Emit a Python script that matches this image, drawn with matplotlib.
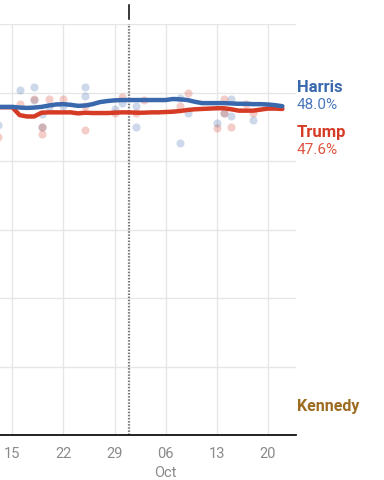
import pandas as pd
import matplotlib
matplotlib.use("Agg")
import matplotlib.pyplot as plt
import matplotlib.dates as mdates
import matplotlib.transforms as mtransforms

plt.rcParams["font.family"] = ["Roboto", "DejaVu Sans"]

# Polling averages (daily trend lines)
trend_dates = pd.date_range("2024-09-13", "2024-10-22", freq="D")
harris_trend = [47.9, 47.9, 47.9, 47.8, 47.75, 47.8, 47.9, 48.1, 48.25, 48.3,
                48.2, 48.05, 48.1, 48.3, 48.6, 48.75, 48.85, 48.9, 48.9, 48.9,
                48.9, 48.9, 48.9, 48.9, 49.05, 49.0, 48.9, 48.65, 48.45, 48.45,
                48.45, 48.45, 48.4, 48.35, 48.35, 48.3, 48.3, 48.25, 48.15, 48.0]
trump_trend = [47.85, 47.85, 47.85, 46.7, 46.5, 46.5, 47.05, 47.1, 47.1, 47.1,
               47.1, 46.95, 47.05, 47.0, 47.0, 47.0, 47.05, 47.1, 47.1, 47.05,
               47.05, 47.1, 47.1, 47.15, 47.2, 47.3, 47.45, 47.55, 47.6, 47.65,
               47.7, 47.7, 47.55, 47.35, 47.35, 47.35, 47.5, 47.65, 47.65, 47.6]

# Individual polls
harris_poll_dates = ["2024-09-13", "2024-09-16", "2024-09-18", "2024-09-18", "2024-09-19",
                     "2024-09-19", "2024-09-20", "2024-09-22", "2024-09-25", "2024-09-25",
                     "2024-09-29", "2024-09-30", "2024-10-02", "2024-10-02", "2024-10-08",
                     "2024-10-08", "2024-10-09", "2024-10-13", "2024-10-14", "2024-10-15",
                     "2024-10-15", "2024-10-18"]
harris_polls = [45.3, 50.4, 50.8, 48.9, 46.9, 45.0, 47.9, 48.0, 50.8, 49.5,
                47.6, 48.4, 48.1, 45.0, 49.2, 42.6, 47.0, 45.5, 47.0, 49.05,
                46.5, 46.0]
trump_poll_dates = ["2024-09-13", "2024-09-16", "2024-09-18", "2024-09-19", "2024-09-19",
                    "2024-09-20", "2024-09-22", "2024-09-25", "2024-09-25", "2024-09-29",
                    "2024-09-30", "2024-10-02", "2024-10-03", "2024-10-08", "2024-10-09",
                    "2024-10-13", "2024-10-14", "2024-10-14", "2024-10-15", "2024-10-17",
                    "2024-10-18"]
trump_polls = [43.5, 48.3, 49.1, 45.0, 43.9, 49.05, 49.05, 48.1, 44.5, 47.0,
               49.3, 47.0, 48.9, 48.1, 50.0, 44.8, 49.05, 47.0, 45.0, 48.3, 47.0]

tick_dates = ["2024-09-15", "2024-09-22", "2024-09-29", "2024-10-06", "2024-10-13", "2024-10-20"]
tick_labels = ["15", "22", "29", "06", "13", "20"]
marker_date = "2024-10-01"

blue = "#3a68ad"
red = "#d63b26"
brown = "#9c6b1f"

fig = plt.figure(figsize=(3.84, 4.81), dpi=100)
ax = fig.add_axes([0, 1 - 436 / 481, 296 / 384, 411 / 481])

ax.scatter(pd.to_datetime(harris_poll_dates), harris_polls, s=34, color=blue, alpha=0.25,
           linewidths=0, zorder=2)
ax.scatter(pd.to_datetime(trump_poll_dates), trump_polls, s=34, color=red, alpha=0.25,
           linewidths=0, zorder=2)
ax.plot(trend_dates, trump_trend, color=red, lw=3.2, solid_capstyle="round",
        solid_joinstyle="round", zorder=3)
ax.plot(trend_dates, harris_trend, color=blue, lw=3.2, solid_capstyle="round",
        solid_joinstyle="round", zorder=4)

# axes limits
x0 = mdates.date2num(pd.Timestamp("2024-09-15"))
ax.set_xlim(x0 - 12.3 / 7.3, x0 + (296 - 12.3) / 7.3)
ax.set_ylim(0, 60)

ax.set_yticks(range(10, 70, 10))
ax.set_xticks(pd.to_datetime(tick_dates))
ax.set_xticklabels(tick_labels)
ax.tick_params(axis="y", length=0, labelleft=False)
ax.tick_params(axis="x", length=0, pad=8, labelsize=10.5, labelcolor="#8a8a8a")
ax.grid(True, color="#e6e6e6", lw=1.0, zorder=0)
ax.set_axisbelow(True)
for s in ["top", "left", "right"]:
    ax.spines[s].set_visible(False)
ax.spines["bottom"].set_color("#111111")
ax.spines["bottom"].set_linewidth(1.3)

# month label
trans = mtransforms.blended_transform_factory(ax.transData, ax.transAxes)
ax.text(pd.Timestamp("2024-10-06"), -37 / 411, "Oct", transform=trans, ha="center",
        va="center", fontsize=10.5, color="#8a8a8a")

# dotted marker line and top tick
md = pd.Timestamp(marker_date)
ax.axvline(md, color="#7a7a7a", lw=1.6, linestyle=(0, (0.7, 0.7)), zorder=1)
ax.plot([md, md], [1 + 5 / 411, 1 + 19 / 411], transform=trans, color="black", lw=1.1,
        clip_on=False)

# labels on the right
fx = 297 / 384
fig.text(fx, 1 - 87 / 481, "Harris", color=blue, fontsize=12, fontweight="bold", va="center")
fig.text(fx, 1 - 105 / 481, "48.0%", color="#4a78bb", fontsize=11, va="center")
fig.text(fx, 1 - 132 / 481, "Trump", color=red, fontsize=12, fontweight="bold", va="center")
fig.text(fx, 1 - 150.5 / 481, "47.6%", color="#e0533e", fontsize=11, va="center")
fig.text(fx, 1 - 406 / 481, "Kennedy", color=brown, fontsize=11.5, fontweight="bold", va="center")

plt.savefig("out.png", dpi=100)
